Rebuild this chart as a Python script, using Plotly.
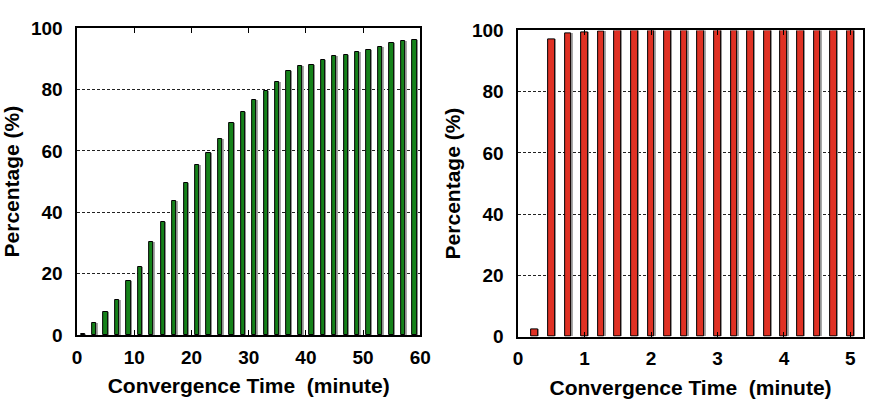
import plotly.graph_objects as go

# Left chart: convergence time in minutes (0-60)
left_x = [1, 3, 5, 7, 9, 11, 13, 15, 17, 19, 21, 23, 25, 27, 29,
          31, 33, 35, 37, 39, 41, 43, 45, 47, 49, 51, 53, 55, 57, 59]
left_y = [0.4, 4.1, 7.6, 11.5, 17.6, 22.1, 30.5, 36.8, 43.6, 49.5,
          55.4, 59.3, 64.0, 69.0, 72.8, 76.5, 79.4, 82.3, 86.0, 87.5,
          88.0, 89.6, 90.8, 91.3, 92.1, 93.0, 93.9, 95.1, 95.8, 96.0]

# Right chart: convergence time in minutes (0-5)
right_x = [0.25, 0.5, 0.75, 1.0, 1.25, 1.5, 1.75, 2.0, 2.25, 2.5,
           2.75, 3.0, 3.25, 3.5, 3.75, 4.0, 4.25, 4.5, 4.75, 5.0]
right_y = [2.4, 97.2, 98.9, 99.5, 99.8, 100, 100, 100, 100, 100,
           100, 100, 100, 100, 100, 100, 100, 100, 100, 100]

x_title = "Convergence Time  (minute)"
y_title = "Percentage (%)"
left_xticks = [0, 10, 20, 30, 40, 50, 60]
right_xticks = [0, 1, 2, 3, 4, 5]
y_ticks = [0, 20, 40, 60, 80, 100]

GREEN = "#15821a"
RED = "#e03124"
SHADOW = "#a8a8a8"
FONT = "Liberation Sans, Arial, sans-serif"

W, H = 874, 405
lw, lsh = 0.75, 0.25
rw, rsh = 0.10, 0.022

fig = go.Figure()
# shadows
fig.add_trace(go.Bar(x=left_x, y=left_y, width=lw, offset=-lw / 2 + lsh,
                     marker=dict(color=SHADOW, line=dict(width=0)),
                     xaxis="x", yaxis="y", hoverinfo="skip", showlegend=False))
fig.add_trace(go.Bar(x=left_x, y=left_y, width=lw, offset=-lw / 2,
                     marker=dict(color=GREEN, line=dict(color="black", width=1)),
                     xaxis="x", yaxis="y", showlegend=False))
fig.add_trace(go.Bar(x=right_x, y=right_y, width=rw, offset=-rw / 2 + rsh,
                     marker=dict(color=SHADOW, line=dict(width=0)),
                     xaxis="x2", yaxis="y2", hoverinfo="skip", showlegend=False))
fig.add_trace(go.Bar(x=right_x, y=right_y, width=rw, offset=-rw / 2,
                     marker=dict(color=RED, line=dict(color="black", width=1)),
                     xaxis="x2", yaxis="y2", showlegend=False))

tickfont = dict(family=FONT, size=19, color="black", weight="bold")
titlefont = dict(family=FONT, size=21, color="black", weight="bold")

common_x = dict(showline=True, linecolor="black", linewidth=1.5, mirror="ticks",
                ticks="inside", ticklen=5, tickcolor="black", showgrid=False,
                zeroline=False, tickfont=tickfont, ticklabelstandoff=4)
common_y = dict(showline=True, linecolor="black", linewidth=1.5, mirror=True,
                ticks="", showgrid=True, gridcolor="#222222", griddash="3px,2px",
                gridwidth=1, zeroline=False, tickfont=tickfont, range=[0, 100],
                tickvals=y_ticks, ticklabelstandoff=9)

fig.update_layout(
    width=W, height=H,
    margin=dict(l=0, r=0, t=0, b=0),
    paper_bgcolor="white", plot_bgcolor="white",
    barmode="overlay", bargap=0,
    xaxis=dict(domain=[73.5 / W, 423 / W], range=[0, 60], tickvals=left_xticks,
               anchor="y", title=dict(text=x_title, font=titlefont, standoff=12),
               **common_x),
    yaxis=dict(domain=[(H - 343) / H, (H - 19) / H], anchor="x",
               title=dict(text=y_title, font=titlefont, standoff=6),
               **common_y),
    xaxis2=dict(domain=[522.7 / W, 1.0], range=[0, 5.19], tickvals=right_xticks,
                anchor="y2", title=dict(text=x_title, font=titlefont, standoff=12),
                **common_x),
    yaxis2=dict(domain=[(H - 344.5) / H, (H - 21.5) / H], anchor="x2",
                title=dict(text=y_title, font=titlefont, standoff=6),
                **common_y),
)

fig.write_html("out.html")
